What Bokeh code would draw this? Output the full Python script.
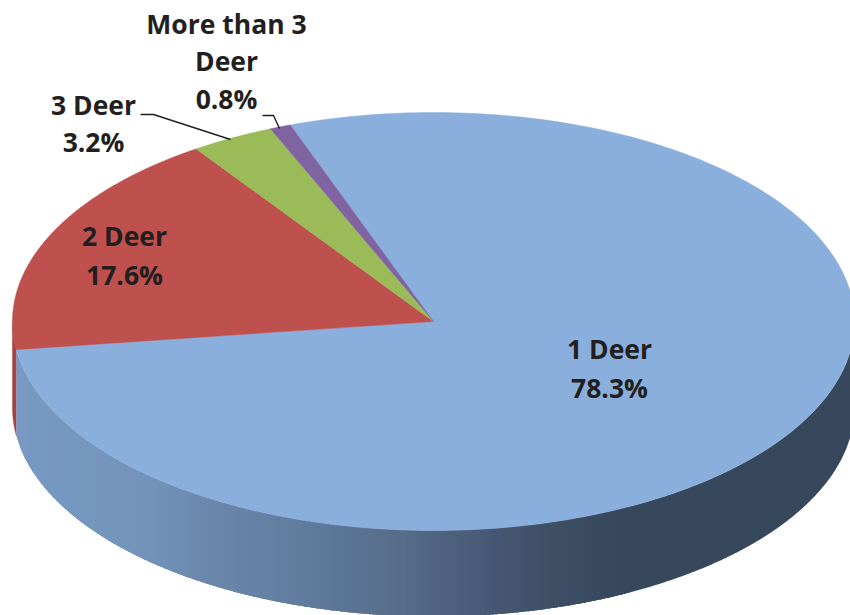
import numpy as np
from bokeh.plotting import figure
from bokeh.models import ColumnDataSource
from bokeh.core.properties import value
from bokeh.embed import file_html
from bokeh.resources import INLINE

categories = ["1 Deer", "2 Deer", "3 Deer", "More than 3 Deer"]
shares = [78.3, 17.6, 3.2, 0.8]
slice_colors = ["#8AAFDC", "#BE504E", "#9BBB59", "#8064A2"]

CX, CY, RX, RY, DEPTH = 433.0, 321.0, 421.0, 209.0, 86.0
START = -19.9

p = figure(width=850, height=615, x_range=(0, 850), y_range=(615, 0),
           output_backend="svg", toolbar_location=None, min_border=0,
           background_fill_color="white", border_fill_color="white")
p.axis.visible = False
p.grid.visible = False
p.outline_line_color = None


def rim(a0, a1, dy=0.0, n=240):
    t = np.radians(np.linspace(a0, a1, n))
    return CX + RX * np.sin(t), CY - RY * np.cos(t) + dy


def lower(x):
    return CY + RY * np.sqrt(np.clip(1 - ((x - CX) / RX) ** 2, 0.0, 1.0))


total = sum(shares)
sweeps = [s / total * 360 for s in shares]
edges = START + np.concatenate([[0], np.cumsum(sweeps)])

# red wall, only a sliver is visible at the far left
xa, ya = rim(edges[1], 270)
xb, yb = rim(270, edges[1], DEPTH)
p.patch(list(xa) + list(xb), list(ya) + list(yb), fill_color="#A8423F", line_color="#A8423F", line_width=0.5)

# blue wall with a horizontal gradient
grad_x = [16, 150, 200, 300, 400, 500, 550, 620, 860]
grad_rgb = np.array([
    (0x78, 0x99, 0xC3), (0x73, 0x93, 0xBA), (0x6C, 0x88, 0xAC), (0x61, 0x7C, 0x9D),
    (0x56, 0x6D, 0x8B), (0x45, 0x56, 0x71), (0x3E, 0x4F, 0x66), (0x37, 0x48, 0x5C), (0x37, 0x48, 0x5C),
])
wall_x0 = CX + RX * np.sin(np.radians(edges[1]))
wall_x1 = CX + RX
steps = list(np.arange(wall_x0, 620, 4.0)) + [620.0]
xs, ys, cs = [], [], []
for i, a in enumerate(steps):
    end = wall_x1 if i == len(steps) - 1 else min(a + 10, wall_x1)
    t = np.linspace(a, end, 200 if i == len(steps) - 1 else 6)
    xs.append(list(t) + list(t[::-1]))
    ys.append(list(lower(t)) + list(lower(t[::-1]) + DEPTH))
    rgb = [int(round(np.interp(a + 2, grad_x, grad_rgb[:, k]))) for k in range(3)]
    cs.append("#%02X%02X%02X" % tuple(rgb))
p.patches("xs", "ys", source=ColumnDataSource(dict(xs=xs, ys=ys, c=cs)), fill_color="c", line_color=None)

# top face
xs, ys = [], []
for a0, a1 in zip(edges[:-1], edges[1:]):
    x, y = rim(a0, a1)
    xs.append([CX] + list(x))
    ys.append([CY] + list(y))
p.patches("xs", "ys", source=ColumnDataSource(dict(xs=xs, ys=ys, c=slice_colors)), fill_color="c", line_color="c", line_width=0.5)

# leader lines
p.line([140, 153, 230], [114, 114, 139], line_color="#231F20", line_width=1.4)
p.line([262, 273, 279], [115, 115, 128], line_color="#231F20", line_width=1.4)

# labels
pct = [f"{s}%" for s in shares]
lines = [
    (categories[0], 609, 348.5), (pct[0], 609, 387.5),
    (categories[1], 124, 235.5), (pct[1], 124, 274.5),
    (categories[2], 93, 104.5), (pct[2], 93, 141.5),
    ("More than 3", 226, 23.5), ("Deer", 226, 60.5), (pct[3], 226, 98.5),
]
p.text([l[1] for l in lines], [l[2] for l in lines], text=[l[0] for l in lines],
       text_font=value("Open Sans"), text_font_style="bold", text_font_size="26.5px",
       text_color="#231F20", text_align="center", text_baseline="middle")

open("out.html", "w").write(file_html(p, INLINE))
